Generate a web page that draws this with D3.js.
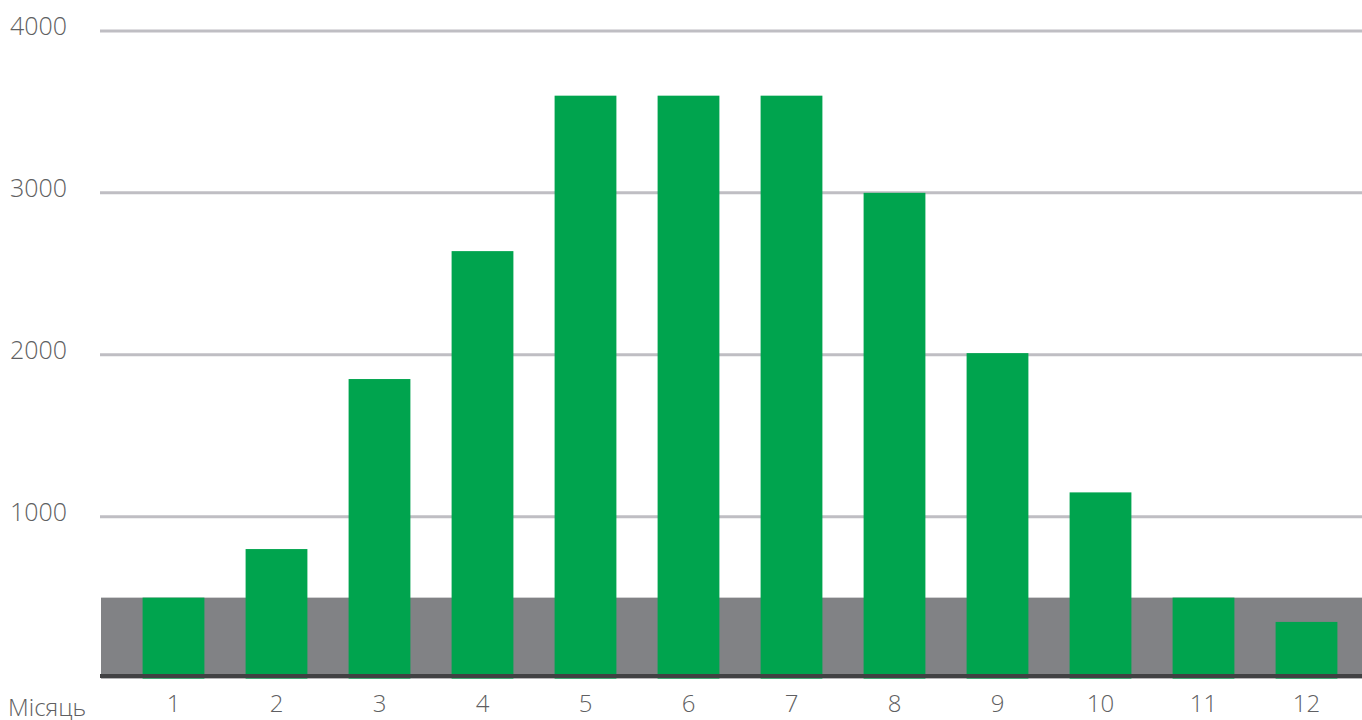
<!DOCTYPE html>
<html><head><meta charset="utf-8">
<script src="https://cdn.jsdelivr.net/npm/d3@7"></script>
<style>html,body{margin:0;padding:0;background:#fff;overflow:hidden}</style>
</head><body><svg id="c" width="1362" height="720"></svg>
<script>
const months = ["1","2","3","4","5","6","7","8","9","10","11","12"];
const values = [500, 800, 1850, 2640, 3600, 3600, 3600, 3000, 2010, 1150, 500, 350];
const yTicks = [1000, 2000, 3000, 4000];
const bandValue = 500;
const xTitle = "Місяць";

const svg = d3.select("#c");
const W = 1362, H = 720;
const x = d3.scaleBand().domain(months).range([122, 1358]).paddingInner(0.4).paddingOuter(0.2);
const y = d3.scaleLinear().domain([0, 4000]).range([678.6, 30.9]);
const font = "'Open Sans', 'Noto Sans', sans-serif";

// grid lines
svg.append("g").selectAll("line").data(yTicks).join("line")
  .attr("x1", 100).attr("x2", W)
  .attr("y1", d => y(d)).attr("y2", d => y(d))
  .attr("stroke", "#bfbec3").attr("stroke-width", 3);

// y labels
svg.append("g").selectAll("text").data(yTicks).join("text")
  .attr("x", 10).attr("y", d => y(d) + 4)
  .attr("font-family", font).attr("font-weight", 300).attr("font-size", 25)
  .attr("fill", "#5f5f62").text(d => d);

// gray band
svg.append("rect").attr("x", 101).attr("width", W - 101)
  .attr("y", y(bandValue)).attr("height", y(0) - y(bandValue))
  .attr("fill", "#818285");

// bars
svg.append("g").selectAll("rect").data(values).join("rect")
  .attr("x", (d, i) => x(months[i])).attr("width", x.bandwidth())
  .attr("y", d => y(d)).attr("height", d => y(0) - y(d))
  .attr("fill", "#00a44e");

// baseline
svg.append("line").attr("x1", 100).attr("x2", W)
  .attr("y1", 676).attr("y2", 676)
  .attr("stroke", "#414143").attr("stroke-width", 4);

// x labels
svg.append("g").selectAll("text").data(months).join("text")
  .attr("x", d => x(d) + x.bandwidth() / 2).attr("y", 712)
  .attr("text-anchor", "middle")
  .attr("font-family", font).attr("font-weight", 300).attr("font-size", 24)
  .attr("fill", "#5f5f62").text(d => d);

svg.append("text").attr("x", 8).attr("y", 716)
  .attr("font-family", font).attr("font-weight", 300).attr("font-size", 24)
  .attr("fill", "#5f5f62").text(xTitle);
</script></body></html>
